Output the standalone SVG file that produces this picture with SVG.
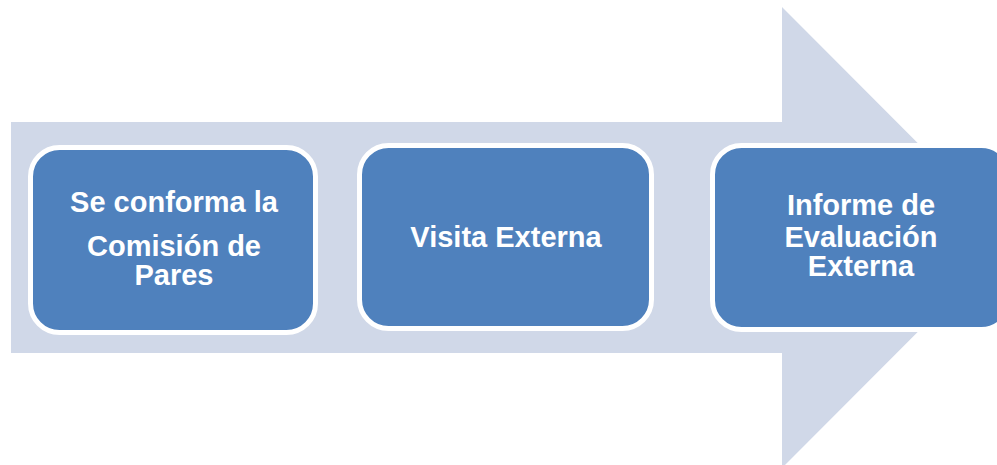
<svg xmlns="http://www.w3.org/2000/svg" width="997" height="465" viewBox="0 0 997 465">
<style>
.box{fill:#4F81BD;stroke:#FFFFFF;stroke-width:5}
.lbl{font-family:"Liberation Sans",Arial,sans-serif;font-weight:bold;font-size:29px;fill:#FFFFFF;text-anchor:middle}
</style>
<rect x="0" y="0" width="997" height="465" fill="#FFFFFF"/>
<g id="arrow">
<polygon points="11,122 782,122 782,7 1012,237.5 782,468 782,353 11,353" fill="#D0D8E8"/>
</g>
<g id="connectors"></g>
<g id="node1">
<rect class="box" x="30.5" y="147.5" width="285" height="185" rx="29" ry="29"/>
<text class="lbl" x="174" y="212">Se conforma la</text>
<text class="lbl" x="174" y="256">Comisión de</text>
<text class="lbl" x="174" y="285">Pares</text>
</g>
<g id="node2">
<rect class="box" x="359.5" y="145.5" width="292" height="183" rx="29" ry="29"/>
<text class="lbl" x="506" y="247">Visita Externa</text>
</g>
<g id="node3">
<rect class="box" x="712.5" y="145.5" width="298" height="184" rx="29" ry="29"/>
<text class="lbl" x="861" y="215">Informe de</text>
<text class="lbl" x="861" y="247">Evaluación</text>
<text class="lbl" x="861" y="276">Externa</text>
</g>
</svg>
